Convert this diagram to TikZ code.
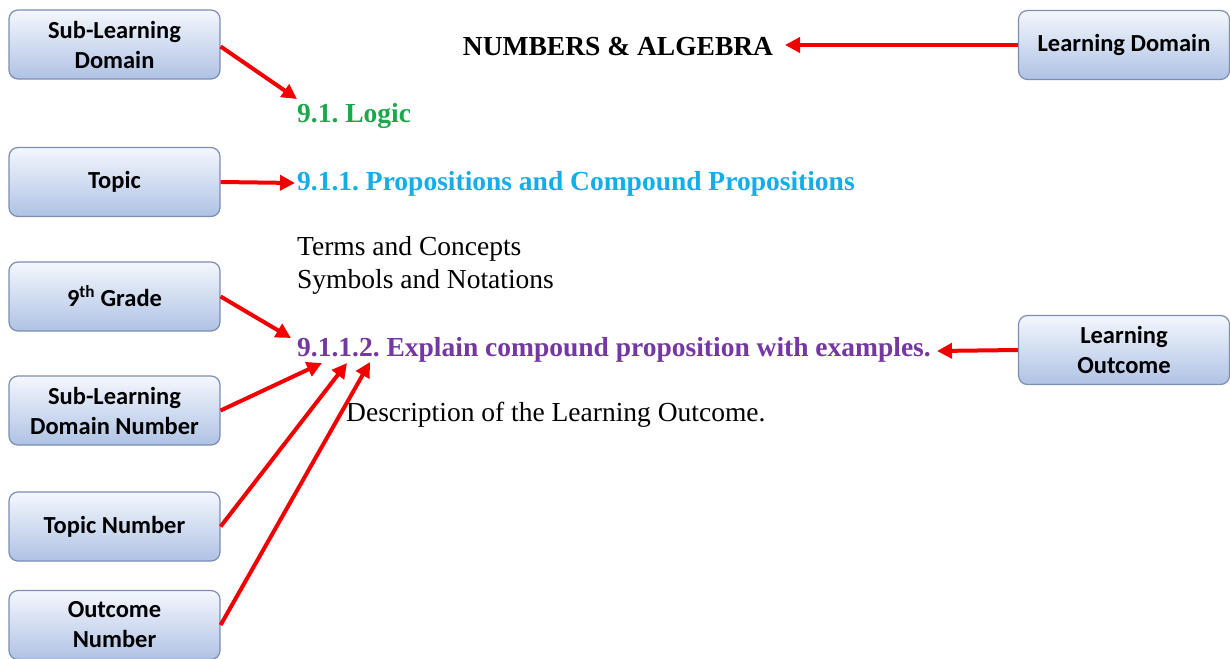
\documentclass[tikz,border=0pt]{standalone}
\usepackage{fontspec}
\setmainfont{Liberation Serif}
\newfontfamily\boxfont{Carlito}
\usetikzlibrary{arrows.meta}
\frenchspacing
\definecolor{boxtop}{HTML}{F4F7FD}
\definecolor{boxbot}{HTML}{AFC2E4}
\definecolor{boxline}{HTML}{7D8DB3}
\definecolor{lgreen}{HTML}{1BA84A}
\definecolor{lblue}{HTML}{12AEEA}
\definecolor{lpurple}{HTML}{7537A3}
\definecolor{arrred}{HTML}{F00000}
\tikzset{
  labelbox/.style={draw=boxline, line width=1.2pt, rounded corners=9pt, top color=boxtop, bottom color=boxbot,
    minimum width=211pt, minimum height=69pt, align=center, inner sep=2pt,
    font=\boxfont\bfseries\fontsize{24.5}{30}\selectfont, text=black},
  redarrow/.style={draw=arrred, line width=4pt, -{Triangle[length=15pt,width=15pt]}},
  heading/.style={anchor=base west, inner sep=0pt, font=\bfseries\fontsize{27.5}{32}\selectfont},
  plain/.style={anchor=base west, inner sep=0pt, font=\fontsize{27.5}{32}\selectfont},
}
\begin{document}
\frenchspacing
\begin{tikzpicture}[x=1pt,y=-1pt]
\useasboundingbox[fill=white] (0,0) rectangle (1230,658);
% boxes
\node[labelbox] (sld) at (114.5,44.5) {Sub-Learning\\Domain};
\node[labelbox] (topic) at (114.5,182) {Topic};
\node[labelbox] (grade) at (114.5,296.5) {9\textsuperscript{th} Grade};
\node[labelbox] (sldn) at (114.5,410.5) {Sub-Learning\\Domain Number};
\node[labelbox] (tn) at (114.5,526.5) {Topic Number};
\node[labelbox] (on) at (114.5,625) {Outcome\\Number};
\node[labelbox] (ld) at (1124,45) {Learning Domain};
\node[labelbox] (lo) at (1124,350) {Learning\\Outcome};
% texts
\node[anchor=base, inner sep=0pt, font=\bfseries\fontsize{27.5}{32}\selectfont] (na) at (618,56) {NUMBERS \& ALGEBRA};
\node[heading, text=lgreen] (logic) at (297,122) {9.1. Logic};
\node[heading, text=lblue] (prop) at (297,190) {9.1.1. Propositions and Compound Propositions};
\node[plain] (terms) at (297,255) {Terms and Concepts};
\node[plain] (symb) at (297,288) {Symbols and Notations};
\node[heading, text=lpurple] (expl) at (297,356) {9.1.1.2. Explain compound proposition with examples.};
\node[plain] (desc) at (346,421) {Description of the Learning Outcome.};
% arrow ends
\coordinate (e1) at (297,99);
\coordinate (e2) at (295,183);
\coordinate (e3) at (291,338);
\coordinate (e4) at (322,363);
\coordinate (e5) at (347,363);
\coordinate (e6) at (370,362);
\coordinate (e7) at (785,45);
\coordinate (e8) at (937,351);
% arrows
\draw[redarrow] (sld.east) ++(0,2) -- (e1);
\draw[redarrow] (topic.east) -- (e2);
\draw[redarrow] (grade.east) -- (e3);
\draw[redarrow] (sldn.east) -- (e4);
\draw[redarrow] (tn.east) -- (e5);
\draw[redarrow] (on.east) -- (e6);
\draw[redarrow] (ld.west) -- (e7);
\draw[redarrow] (lo.west) -- (e8);
\end{tikzpicture}
\end{document}
